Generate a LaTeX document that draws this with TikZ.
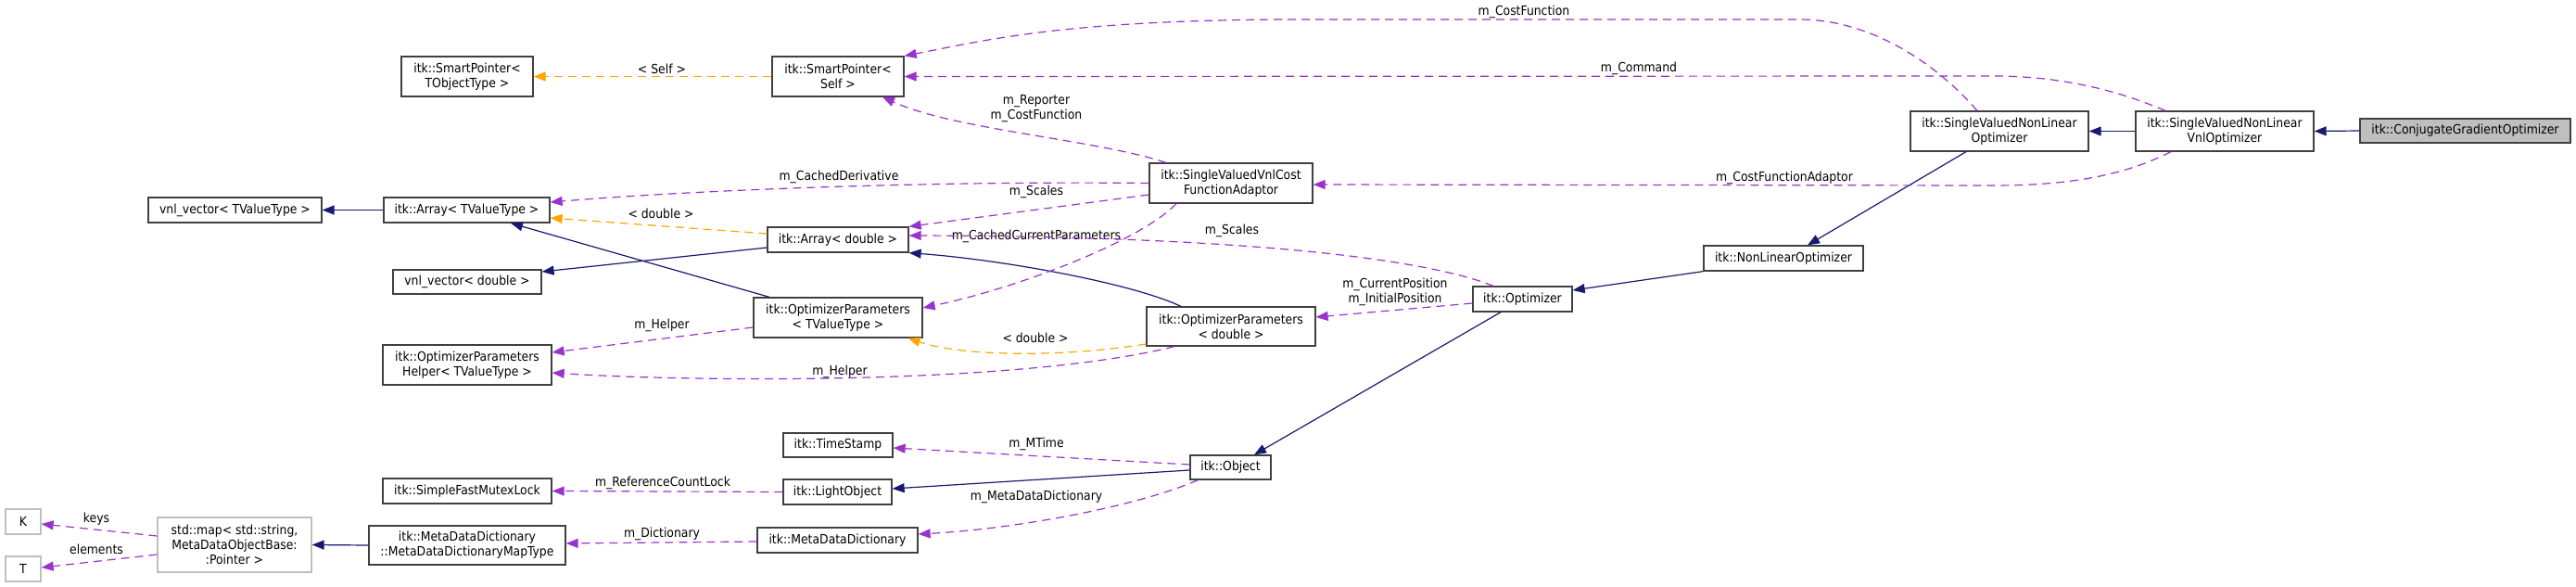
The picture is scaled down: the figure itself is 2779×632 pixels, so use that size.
\documentclass[tikz,border=0pt]{standalone}
\usepackage{fontspec}
\IfFontExistsTF{DejaVu Sans Condensed}{\setmainfont{DejaVu Sans Condensed}\newcommand\dxfs{13.8}}{\setmainfont{DejaVu Sans}\newcommand\dxfs{12.5}}
\newcommand\dxfont{\fontsize{\dxfs}{16}\selectfont}
\usetikzlibrary{arrows.meta}
\definecolor{inhc}{HTML}{191970}
\definecolor{usec}{HTML}{9A32CD}
\definecolor{tplc}{HTML}{FFA500}
\definecolor{bordc}{HTML}{404040}
\definecolor{greyc}{HTML}{BFBFBF}
\tikzset{
  cls/.style={draw=bordc, line width=1.3pt, fill=white, inner sep=0pt, align=center, font=\dxfont},
  gcls/.style={cls, draw=greyc},
  sz/.style n args={2}{minimum width=#1pt, minimum height=#2pt},
  tip/.style={-{Triangle[length=13pt,width=10pt]}},
  inh/.style={draw=inhc, line width=1.2pt, tip},
  usee/.style={draw=usec, line width=1.2pt, dash pattern=on 9pt off 6pt, tip},
  tpl/.style={draw=tplc, line width=1.2pt, dash pattern=on 9pt off 6pt, tip},
  lbl/.style={font=\dxfont, inner sep=0pt, align=center, text=black}
}
\begin{document}
\begin{tikzpicture}[x=1pt,y=-1pt]
\useasboundingbox (0,0) rectangle (2779,632);
% nodes
\node[cls, sz={227}{26}, fill=greyc] (CGO) at (2659.5,141) {itk::ConjugateGradientOptimizer};
\node[cls, sz={192}{43}] (SVNLVnl) at (2400,141.5) {itk::SingleValuedNonLinear\\VnlOptimizer};
\node[cls, sz={192}{43}] (SVNLO) at (2157,141.5) {itk::SingleValuedNonLinear\\Optimizer};
\node[cls, sz={172}{27}] (NLO) at (1924,278.5) {itk::NonLinearOptimizer};
\node[cls, sz={107}{27}] (Opt) at (1642.5,322.5) {itk::Optimizer};
\node[cls, sz={87}{26}] (Obj) at (1327.5,504) {itk::Object};
\node[cls, sz={182}{42}] (OPD) at (1328,352) {itk::OptimizerParameters\\< double >};
\node[cls, sz={176}{43}] (SVCFA) at (1328,197.5) {itk::SingleValuedVnlCost\\FunctionAdaptor};
\node[cls, sz={142}{43}] (SPS) at (904,82.5) {itk::SmartPointer<\\Self >};
\node[cls, sz={142}{43}] (SPT) at (504,82.5) {itk::SmartPointer<\\TObjectType >};
\node[cls, sz={152}{27}] (AD) at (904,258.5) {itk::Array< double >};
\node[cls, sz={182}{43}] (OPT) at (904,342.5) {itk::OptimizerParameters\\< TValueType >};
\node[cls, sz={118}{26}] (TS) at (904,480) {itk::TimeStamp};
\node[cls, sz={117}{27}] (LO) at (903.5,530.5) {itk::LightObject};
\node[cls, sz={173}{27}] (MDD) at (903.5,582.5) {itk::MetaDataDictionary};
\node[cls, sz={187}{27}] (VT) at (253.5,226.5) {vnl\_vector< TValueType >};
\node[cls, sz={179}{27}] (AT) at (503.5,226.5) {itk::Array< TValueType >};
\node[cls, sz={160}{26}] (VD) at (504,304) {vnl\_vector< double >};
\node[cls, sz={182}{43}] (OPH) at (504,393.5) {itk::OptimizerParameters\\Helper< TValueType >};
\node[cls, sz={182}{27}] (SFML) at (504,529.5) {itk::SimpleFastMutexLock};
\node[cls, sz={212}{42}] (MDDM) at (504,588) {itk::MetaDataDictionary\\::MetaDataDictionaryMapType};
\node[gcls, sz={166}{59}] (SMAP) at (253,587.5) {std::map< std::string,\\MetaDataObjectBase:\\:Pointer >};
\node[gcls, sz={38}{27}] (K) at (25,562.5) {K};
\node[gcls, sz={38}{27}] (T) at (25,613.5) {T};
% inheritance
\draw[inh] (CGO.west) -- (SVNLVnl.east);
\draw[inh] (SVNLVnl.west) -- (SVNLO.east);
\draw[inh] ([xshift=-36pt]SVNLO.south) -- ([xshift=26pt]NLO.north);
\draw[inh] (NLO.south west) -- ([yshift=9.5pt]Opt.east);
\draw[inh] ([xshift=-23.5pt]Opt.south) -- ([xshift=25.5pt]Obj.north);
\draw[inh] ([yshift=-3pt]Obj.west) -- ([yshift=3.5pt]LO.east);
\draw[inh] ([yshift=-8.5pt]AD.west) -- ([yshift=11pt]VD.east);
\draw[inh] (AT.west) -- (VT.east);
\draw[inh] ([xshift=-74pt]OPT.north) -- ([xshift=47.5pt]AT.south);
\draw[inh] ([xshift=-54pt]OPD.north) .. controls (1220,305) and (1080,280) .. (AD.south east);
\draw[inh] (MDDM.west) -- (SMAP.east);
% usage
\draw[usee] ([xshift=-24pt]SVNLO.north) .. controls (2090,70) and (2020,21) .. (1941,21) -- (1400,21) .. controls (1150,21) and (1060,44) .. (SPS.north east);
\node[lbl] (lCF1) at (1644,13) {m\_CostFunction};
\draw[usee] ([xshift=-64pt]SVNLVnl.north) .. controls (2290,100) and (2230,82) .. (2150,82) -- (SPS.east);
\node[lbl] (lCmd) at (1768,74) {m\_Command};
\draw[usee] ([xshift=-58pt]SVNLVnl.south) .. controls (2290,190) and (2230,200) .. (2150,200) -- ([yshift=-1.5pt]SVCFA.east);
\node[lbl] (lCFA) at (1925,192) {m\_CostFunctionAdaptor};
\draw[usee] ([xshift=-70pt]SVCFA.north) .. controls (1180,150) and (1030,140) .. ([xshift=48pt]SPS.south);
\node[lbl] (lRep) at (1118,117) {m\_Reporter\\m\_CostFunction};
\draw[usee] (SVCFA.west) .. controls (1000,195) and (750,205) .. ([yshift=8.5pt]AT.east);
\node[lbl] (lCD) at (905,191) {m\_CachedDerivative};
\draw[usee] ([yshift=-12.5pt]SVCFA.west) -- (AD.north east);
\node[lbl] (lSc1) at (1118,207) {m\_Scales};
\draw[usee] ([xshift=-59pt]SVCFA.south) .. controls (1230,260) and (1100,310) .. ([yshift=10.5pt]OPT.east);
\node[lbl] (lCCP) at (1118,255) {m\_CachedCurrentParameters};
\draw[usee] ([xshift=-31.5pt]Opt.north) .. controls (1540,280) and (1350,255) .. ([yshift=4.5pt]AD.east);
\node[lbl] (lSc2) at (1329,249) {m\_Scales};
\draw[usee] ([yshift=-4.5pt]Opt.west) -- ([yshift=10pt]OPD.east);
\node[lbl] (lPos) at (1505,315) {m\_CurrentPosition\\m\_InitialPosition};
\draw[usee] ([yshift=-10.5pt]OPT.west) -- ([yshift=13.5pt]OPH.east);
\node[lbl] (lH1) at (714,351) {m\_Helper};
\draw[usee] ([xshift=-61pt]OPD.south) .. controls (1100,415) and (750,412) .. ([yshift=-8.5pt]OPH.east);
\node[lbl] (lH2) at (906,401) {m\_Helper};
\draw[tpl] ([yshift=-19pt]OPD.west) .. controls (1150,385) and (1040,385) .. ([xshift=-16pt]OPT.south east);
\node[lbl] (lD1) at (1117,364) {< double >};
\draw[tpl] ([yshift=6.5pt]AD.west) -- ([yshift=-8.5pt]AT.east);
\node[lbl] (lD2) at (713,230) {< double >};
\draw[tpl] (SPS.west) -- (SPT.east);
\node[lbl] (lSelf) at (714,74) {< Self >};
\draw[usee] ([yshift=3pt]Obj.west) -- ([yshift=-3pt]TS.east);
\node[lbl] (lMT) at (1118,479) {m\_MTime};
\draw[usee] (LO.west) -- (SFML.east);
\node[lbl] (lRCL) at (715,521) {m\_ReferenceCountLock};
\draw[usee] ([xshift=9pt]Obj.south west) .. controls (1230,545) and (1100,570) .. ([yshift=6.5pt]MDD.east);
\node[lbl] (lMDD) at (1118,536) {m\_MetaDataDictionary};
\draw[usee] ([yshift=-1.5pt]MDD.west) -- ([yshift=2pt]MDDM.east);
\node[lbl] (lDict) at (714,576) {m\_Dictionary};
\draw[usee] ([yshift=9.5pt]SMAP.west) -- ([yshift=-2.5pt]K.east);
\node[lbl] (lK) at (104,560) {keys};
\draw[usee] ([yshift=-10.5pt]SMAP.west) -- ([yshift=1.5pt]T.east);
\node[lbl] (lE) at (104,592) {elements};
\end{tikzpicture}
\end{document}
